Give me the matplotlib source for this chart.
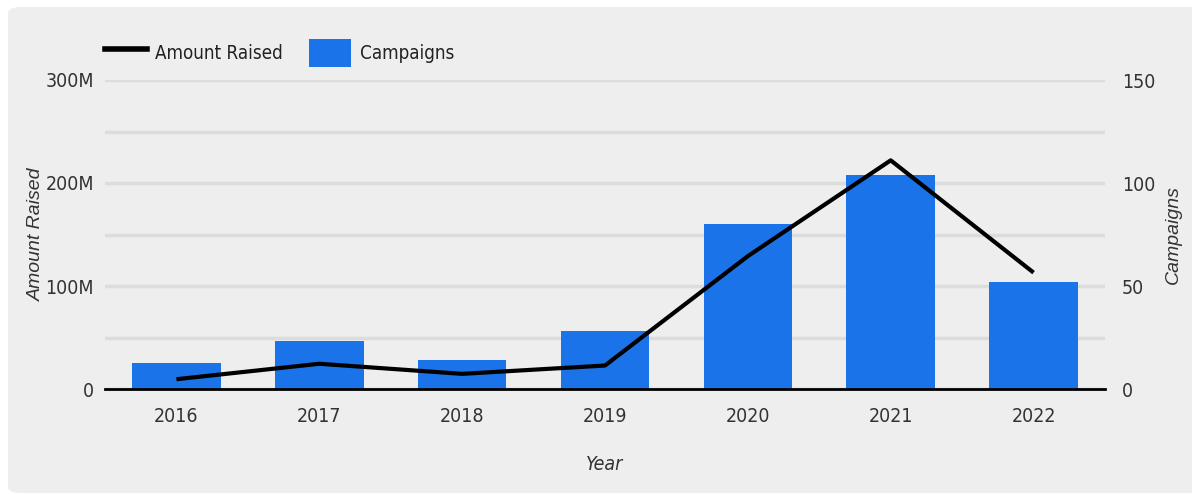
import matplotlib.pyplot as plt
from matplotlib.patches import FancyBboxPatch
from matplotlib.lines import Line2D
from matplotlib.patches import Patch
from matplotlib import font_manager
import numpy as np

years = ["2016", "2017", "2018", "2019", "2020", "2021", "2022"]
campaigns = [12.5, 23.5, 14, 28, 80, 104, 52]
amount_raised = [9.5e6, 24.5e6, 14.7e6, 22.8e6, 129e6, 222e6, 113e6]

left_ticks = [0, 100e6, 200e6, 300e6]
left_labels = ["0", "100M", "200M", "300M"]
right_ticks = [0, 50, 100, 150]

cond = font_manager.FontProperties(family="DejaVu Sans", stretch="condensed", size=14)
cond_it = font_manager.FontProperties(family="DejaVu Sans", stretch="condensed",
                                      style="italic", size=14)
text_col = "#333333"
blue = "#1a73e8"

fig = plt.figure(figsize=(11.92, 4.94), dpi=100)
fig.patch.set_facecolor("white")

# grey card behind the chart
card = FancyBboxPatch((8 / 1192, 1 / 494), 1200 / 1192, 486 / 494,
                      boxstyle="round,pad=0,rounding_size=0.012",
                      transform=fig.transFigure, facecolor="#eeeeee",
                      edgecolor="none", zorder=-5)
fig.patches.append(card)

ax = fig.add_axes([105 / 1192, 105 / 494, 1000 / 1192, 309 / 494])
ax2 = ax.twinx()
ax.set_zorder(ax2.get_zorder() + 1)
ax.patch.set_visible(False)
ax2.patch.set_visible(False)

x = np.arange(len(years))

# bars on the right axis
ax2.bar(x, campaigns, width=0.62, color=blue, zorder=3)
ax2.set_ylim(0, 150)
ax2.set_yticks(right_ticks)
ax2.set_yticks([25, 75, 125], minor=True)
ax2.grid(True, which="both", axis="y", color="#dcdcdc", linewidth=2.5, zorder=0)
ax2.set_axisbelow(True)
ax2.tick_params(axis="y", which="both", length=0, pad=12, labelcolor=text_col)
for lbl in ax2.get_yticklabels():
    lbl.set_fontproperties(cond)
ax2.set_ylabel("Campaigns", fontsize=14, style="italic", color=text_col,
               family="Liberation Sans")
ax2.yaxis.set_label_coords(1.06, 0.5)

# line on the left axis
ax.plot(x, amount_raised, color="black", linewidth=3.0, solid_capstyle="butt",
        zorder=5)
ax.set_ylim(0, 300e6)
ax.set_xlim(-0.5, len(years) - 0.5)
ax.set_yticks(left_ticks)
ax.set_yticklabels(left_labels)
ax.set_xticks(x)
ax.set_xticklabels(years)
ax.tick_params(axis="y", length=0, pad=8, labelcolor=text_col)
ax.tick_params(axis="x", length=0, pad=13, labelcolor=text_col)
for lbl in ax.get_yticklabels() + ax.get_xticklabels():
    lbl.set_fontproperties(cond)
ax.set_ylabel("Amount Raised", fontsize=14, style="italic", color=text_col,
              family="Liberation Sans")
ax.yaxis.set_label_coords(-0.06, 0.5)
ax.set_xlabel("Year", fontproperties=cond_it, color=text_col)
ax.xaxis.set_label_coords(0.5, -0.215)

for a in (ax, ax2):
    for side in ("top", "left", "right", "bottom"):
        a.spines[side].set_visible(False)
ax.spines["bottom"].set_visible(True)
ax.spines["bottom"].set_color("black")
ax.spines["bottom"].set_linewidth(2)

handles = [Line2D([0], [0], color="black", linewidth=4),
           Patch(facecolor=blue, edgecolor="none")]
leg = fig.legend(handles, ["Amount Raised", "Campaigns"], loc="center left",
                 bbox_to_anchor=(105 / 1192, 1 - 53 / 494), ncol=2,
                 frameon=False, borderpad=0, borderaxespad=0,
                 handlelength=2.24, handleheight=2.0,
                 columnspacing=1.4, handletextpad=0.45,
                 prop=font_manager.FontProperties(family="DejaVu Sans",
                                                  stretch="condensed", size=13.5))
for t in leg.get_texts():
    t.set_color("#222222")

fig.savefig("out.png", dpi=100)
